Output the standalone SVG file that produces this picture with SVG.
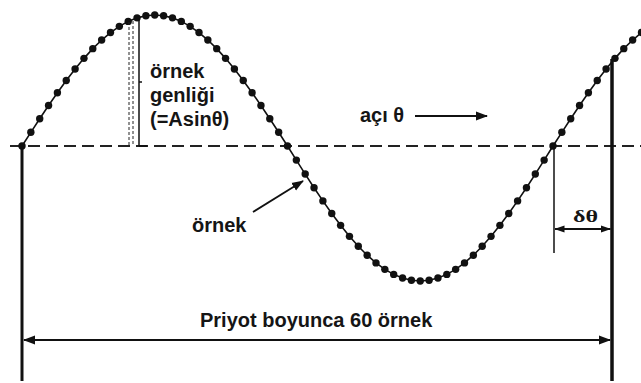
<svg xmlns="http://www.w3.org/2000/svg" width="641" height="383" viewBox="0 0 641 383">
  <style>
    .lbl { font-family: "Liberation Sans", Arial, sans-serif; font-weight: bold; font-size: 20px; fill: #151515; }
    .ln { stroke: #111; fill: none; }
  </style>
  <defs>
    <marker id="dot" markerUnits="userSpaceOnUse" markerWidth="9" markerHeight="9" refX="4.5" refY="4.5" viewBox="0 0 9 9">
      <circle cx="4.5" cy="4.5" r="3.7" fill="#111"/>
    </marker>
    <marker id="ah" markerUnits="userSpaceOnUse" markerWidth="12" markerHeight="10" refX="11" refY="5" orient="auto-start-reverse" viewBox="0 0 12 10">
      <path d="M0,0.5 L12,5 L0,9.5 Z" fill="#111"/>
    </marker>
    <marker id="ahs" markerUnits="userSpaceOnUse" markerWidth="10" markerHeight="8" refX="9.5" refY="4" orient="auto-start-reverse" viewBox="0 0 10 8">
      <path d="M0,0.5 L10,4 L0,7.5 Z" fill="#111"/>
    </marker>
  </defs>
  <rect width="641" height="383" fill="#fff"/>

  <g id="axis">
    <line x1="10" y1="146" x2="641" y2="146" stroke="#222" stroke-width="2" stroke-dasharray="12 6"/>
    <line x1="22" y1="144" x2="22" y2="381" class="ln" stroke-width="3"/>
    <line x1="612" y1="59" x2="612" y2="381" class="ln" stroke-width="3.5"/>
  </g>

  <g id="wave">
    <polyline class="ln" stroke-width="1.6" marker-start="url(#dot)" marker-mid="url(#dot)" marker-end="url(#dot)"
      points="22,146 30.85,132.31 39.7,118.76 48.55,105.52 57.4,92.72 66.25,80.5 75.1,69 83.95,58.34 92.8,48.65 101.65,40.02 110.5,32.55 119.35,26.33 128.2,21.41 137.05,17.86 145.9,15.72 154.75,15 163.6,15.72 172.45,17.86 181.3,21.41 190.15,26.33 199,32.55 207.85,40.02 216.7,48.65 225.55,58.34 234.4,69 243.25,80.5 252.1,92.72 260.95,105.52 269.8,118.76 278.65,132.31 287.5,146 296.35,160.11 305.2,174.07 314.05,187.72 322.9,200.91 331.75,213.5 340.6,225.35 349.45,236.33 358.3,246.32 367.15,255.22 376,262.91 384.85,269.33 393.7,274.39 402.55,278.05 411.4,280.26 420.25,281 429.1,280.26 437.95,278.05 446.8,274.39 455.65,269.33 464.5,262.91 473.35,255.22 482.2,246.32 491.05,236.33 499.9,225.35 508.75,213.5 517.6,200.91 526.45,187.72 535.3,174.07 544.15,160.11 553,146 561.85,132.31 570.7,118.76 579.55,105.52 588.4,92.72 597.25,80.5 606.1,69 614.95,58.34 623.8,48.65 632.65,40.02 641.5,32.55"/>
  </g>

  <g id="amplitude">
    <line x1="129" y1="22" x2="129" y2="146" stroke="#222" stroke-width="1" stroke-dasharray="3 2"/>
    <line x1="133" y1="21" x2="133" y2="146" stroke="#222" stroke-width="1" stroke-dasharray="3 2"/>
    <line x1="139" y1="18" x2="139" y2="146" class="ln" stroke-width="1.5"/>
    <line x1="139" y1="146" x2="147" y2="146" class="ln" stroke-width="2"/>
    <line x1="139" y1="82" x2="142" y2="82" class="ln" stroke-width="1.5"/>
    <text class="lbl" x="150" y="78">örnek</text>
    <text class="lbl" x="150" y="102">genliği</text>
    <text class="lbl" x="150" y="126">(=Asinθ)</text>
  </g>

  <g id="angle">
    <text class="lbl" x="360" y="122">açı θ</text>
  </g>

  <g id="sample">
    <text class="lbl" x="192" y="232">örnek</text>
  </g>

  <g id="period">
    <text class="lbl" x="200" y="327">Priyot boyunca 60 örnek</text>
  </g>

  <g id="delta">
    <line x1="554" y1="146" x2="554" y2="253" class="ln" stroke-width="1.5"/>
    <text x="573" y="222" font-family="'Liberation Serif', 'Times New Roman', serif" font-weight="bold" font-size="16" fill="#151515" textLength="25" lengthAdjust="spacingAndGlyphs">δθ</text>
  </g>

  <g id="connectors">
    <line x1="415" y1="116" x2="487" y2="116" class="ln" stroke-width="1.8" marker-end="url(#ah)"/>
    <line x1="253" y1="212" x2="303" y2="181" class="ln" stroke-width="1.8" marker-end="url(#ah)"/>
    <line x1="24" y1="340" x2="610" y2="340" class="ln" stroke-width="2" marker-start="url(#ah)" marker-end="url(#ah)"/>
    <line x1="555" y1="229" x2="610.5" y2="229" class="ln" stroke-width="2" marker-start="url(#ahs)" marker-end="url(#ahs)"/>
  </g>
</svg>
